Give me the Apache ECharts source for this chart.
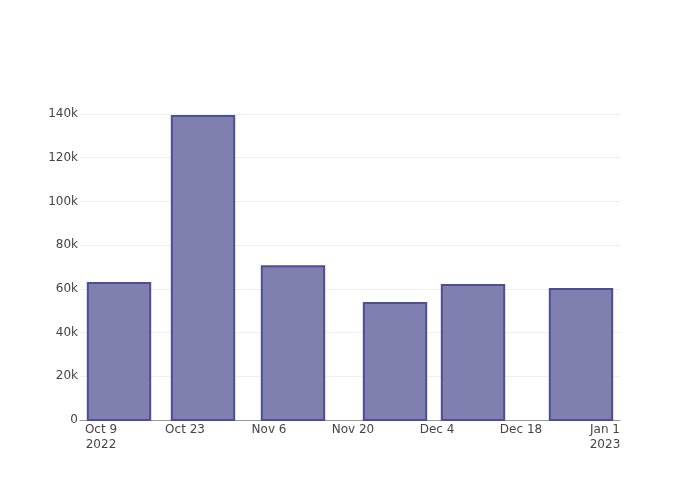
<!DOCTYPE html>
<html>
<head>
<meta charset="utf-8">
<script src="https://cdn.jsdelivr.net/npm/echarts@6/dist/echarts.min.js"></script>
<style>html,body{margin:0;padding:0;background:#fff}#c{width:700px;height:500px}</style>
</head>
<body>
<div id="c"></div>
<script>
// Data
const barDates = ['2022-10-12', '2022-10-26', '2022-11-10', '2022-11-27', '2022-12-10', '2022-12-28'];
const barValues = [62700, 139100, 70400, 53500, 61800, 59900];
const tickDates = ['2022-10-09', '2022-10-23', '2022-11-06', '2022-11-20', '2022-12-04', '2022-12-18', '2023-01-01'];
const tickLabels = ['Oct 9\n2022', 'Oct 23', 'Nov 6', 'Nov 20', 'Dec 4', 'Dec 18', 'Jan 1\n2023'];
const yTicks = [0, 20000, 40000, 60000, 80000, 100000, 120000, 140000];
const axisStart = '2022-10-06';
const axisEnd = '2023-01-03';

// Day categories spanning the axis (axis scaffolding)
const days = [];
for (let t = Date.parse(axisStart + 'T00:00:00Z'); t <= Date.parse(axisEnd + 'T00:00:00Z'); t += 86400000) {
  days.push(new Date(t).toISOString().slice(0, 10));
}
const gridLeft = 80, gridRight = 80;
const plotWidth = 700 - gridLeft - gridRight;
const pxPerDay = plotWidth / days.length;
const barW = 0.8 * 13 * pxPerDay;

const chart = echarts.init(document.getElementById('c'));
const font = 'DejaVu Sans';
chart.setOption({
  animation: false,
  backgroundColor: '#fff',
  grid: { left: gridLeft, right: gridRight, top: 114, bottom: 80, containLabel: false },
  xAxis: {
    type: 'category',
    data: days,
    boundaryGap: true,
    axisLine: { show: true, lineStyle: { color: '#999', width: 1 } },
    axisTick: { show: false },
    splitLine: { show: false },
    axisLabel: {
      interval: (i, v) => tickDates.includes(v),
      formatter: v => tickLabels[tickDates.indexOf(v)] || '',
      color: '#444', fontFamily: font, fontSize: 12, lineHeight: 15, margin: 2,
      hideOverlap: false
    }
  },
  yAxis: {
    type: 'value',
    min: 0, max: 140000, interval: 20000,
    axisLine: { show: false },
    axisTick: { show: false },
    splitLine: { lineStyle: { color: '#eee', width: 1 } },
    axisLabel: {
      color: '#444', fontFamily: font, fontSize: 12, margin: 2,
      formatter: v => yTicks.includes(v) ? (v === 0 ? '0' : (v / 1000) + 'k') : ''
    }
  },
  series: [{
    type: 'custom',
    data: barDates.map((d, i) => [d, barValues[i]]),
    encode: { x: 0, y: 1 },
    renderItem: (params, api) => {
      const top = api.coord([api.value(0), api.value(1)]);
      const base = api.coord([api.value(0), 0]);
      return {
        type: 'rect',
        shape: { x: top[0] - barW / 2, y: top[1], width: barW, height: base[1] - top[1] },
        style: { fill: '#7f7fb0', stroke: '#4e4e92', lineWidth: 2 }
      };
    }
  }]
});
</script>
</body>
</html>
